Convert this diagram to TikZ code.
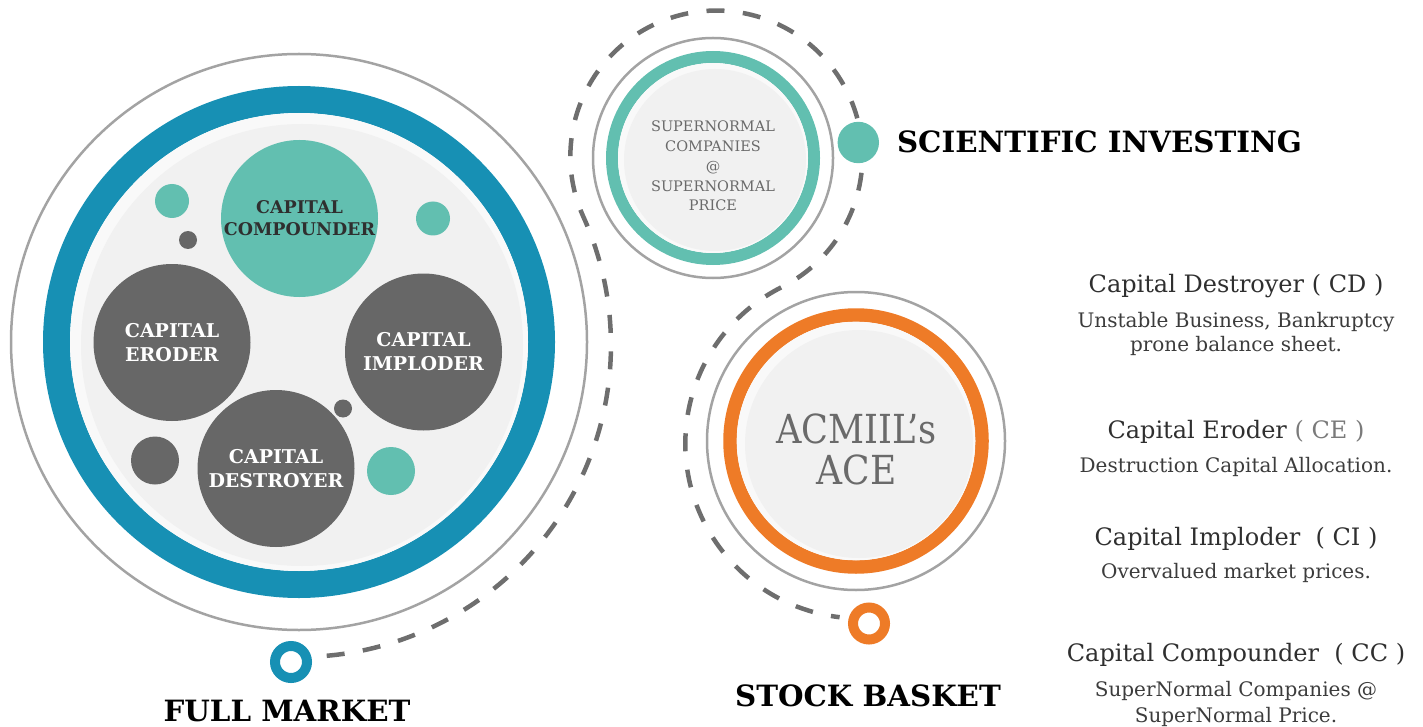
\documentclass[tikz,border=0pt]{standalone}
\usepackage{fontspec}
\setmainfont{DejaVu Serif}
\definecolor{fmblue}{HTML}{1790B4}
\definecolor{tealc}{HTML}{62BFB0}
\definecolor{darkc}{HTML}{676767}
\definecolor{orng}{HTML}{EE7B27}
\definecolor{lgray}{HTML}{A3A3A3}
\definecolor{dashc}{HTML}{6E6E6E}
\definecolor{txt}{HTML}{2F2F2F}
\definecolor{subtxt}{HTML}{3C3C3C}
\definecolor{midtxt}{HTML}{6A6A6A}
\definecolor{ltxt}{HTML}{7A7A7A}
\definecolor{diskA}{HTML}{F9F9F9}
\definecolor{diskB}{HTML}{F1F1F1}
\tikzset{
  thinring/.style={draw=lgray, line width=2.5pt},
  bigc/.style={circle, fill=darkc, minimum size=157pt, inner sep=0pt, align=center,
     text=white, font=\fontsize{19}{24}\selectfont\bfseries},
  dotc/.style={circle, inner sep=0pt},
  smallring/.style={circle, line width=10pt, fill=white, minimum size=32pt, inner sep=0pt},
  titletext/.style={anchor=base, inner sep=0pt, text=black, font=\fontsize{29.3}{35}\selectfont\bfseries},
  hdtext/.style={anchor=base, inner sep=0pt, text=txt, font=\fontsize{24}{28}\selectfont},
  subtext/.style={anchor=base, inner sep=0pt, text=subtxt, font=\fontsize{20}{24}\selectfont},
  dashline/.style={draw=dashc, line width=4.5pt, dash pattern=on 18pt off 18.5pt}
}
\begin{document}
\begin{tikzpicture}[x=1pt,y=-1pt]
\useasboundingbox (0,0) rectangle (1423,727);

% ---------- full market group ----------
\draw[thinring] (299,342) circle[radius=288];
\draw[fmblue, line width=27pt] (299,342) circle[radius=242.5];
\fill[diskA] (299,342) circle[radius=229];
\fill[diskB] (302,345) circle[radius=221];

% ---------- scientific investing group ----------
\draw[thinring] (713,158) circle[radius=120];
\draw[tealc, line width=12pt] (713,158) circle[radius=101];
\fill[diskA] (713,158) circle[radius=95];
\fill[diskB] (715,160) circle[radius=91];

% ---------- stock basket group ----------
\draw[thinring] (856,441) circle[radius=149];
\draw[orng, line width=13.5pt] (856,441) circle[radius=126];
\fill[diskA] (856,441) circle[radius=119.3];
\fill[diskB] (859,444) circle[radius=114];

% ---------- dashed connector ----------
\coordinate (d0) at (326.7,655.8);
\draw[dashline] (d0) arc[start angle=84.9, end angle=-24.3, radius=312]
   arc[start angle=155.7, end angle=423.35, radius=146]
   arc[start angle=243.35, end angle=96.8, radius=175] coordinate (d1);

% ---------- markers ----------
\node[smallring, draw=fmblue] (fm) at (291,662) {};
\node[smallring, draw=orng] (sb) at (869,623.5) {};
\node[dotc, fill=tealc, minimum size=41.4pt] (si) at (858.3,142.5) {};

% ---------- circles inside full market ----------
\node[bigc, fill=tealc, text=txt, font=\fontsize{17.5}{22}\selectfont\bfseries] (cc) at (299.5,218.5) {CAPITAL\\COMPOUNDER};
\node[bigc] (ce) at (172,342.5) {CAPITAL\\ERODER};
\node[bigc] (ci) at (423.5,352) {CAPITAL\\IMPLODER};
\node[bigc] (cd) at (276,468.5) {CAPITAL\\DESTROYER};

\node[dotc, fill=tealc, minimum size=34pt] (t1) at (172,201) {};
\node[dotc, fill=tealc, minimum size=34pt] (t2) at (433,218.5) {};
\node[dotc, fill=tealc, minimum size=48pt] (t3) at (391,471) {};
\node[dotc, fill=darkc, minimum size=18pt] (k1) at (188,240) {};
\node[dotc, fill=darkc, minimum size=18pt] (k2) at (343,408.5) {};
\node[dotc, fill=darkc, minimum size=48pt] (k3) at (155,460.5) {};

% ---------- inner texts ----------
\node[align=center, inner sep=0pt, text=midtxt, font=\fontsize{14.5}{19.75}\selectfont] (sn) at (713,166)
  {SUPERNORMAL\\COMPANIES\\@\\SUPERNORMAL\\PRICE};
\node[align=center, inner sep=0pt, text=midtxt, font=\fontsize{40}{41.5}\selectfont] (ace) at (856.5,449.3)
  {\scalebox{0.88}[1]{ACMIIL’s}\\\scalebox{0.9}[1]{ACE}};

% ---------- titles ----------
\node[titletext] (tsi) at (1099.5,153) {SCIENTIFIC INVESTING};
\node[titletext] (tsb) at (868,706) {STOCK BASKET};
\node[titletext] (tfm) at (287,721) {FULL MARKET};

% ---------- legend ----------
\node[hdtext] (l1) at (1236,292.7) {Capital Destroyer ( CD )};
\node[subtext] (l1a) at (1236,327) {Unstable Business, Bankruptcy};
\node[subtext] (l1b) at (1236,351.7) {prone balance sheet.};
\node[hdtext] (l2) at (1236,438) {Capital Eroder {\color{ltxt}( CE )}};
\node[subtext] (l2a) at (1236,472) {Destruction Capital Allocation.};
\node[hdtext] (l3) at (1236,545) {Capital Imploder\ \ ( CI )};
\node[subtext] (l3a) at (1236,578) {Overvalued market prices.};
\node[hdtext] (l4) at (1236,661.7) {Capital Compounder\ \ ( CC )};
\node[subtext] (l4a) at (1236,696.7) {SuperNormal Companies @};
\node[subtext] (l4b) at (1236,722) {SuperNormal Price.};
\end{tikzpicture}
\end{document}
